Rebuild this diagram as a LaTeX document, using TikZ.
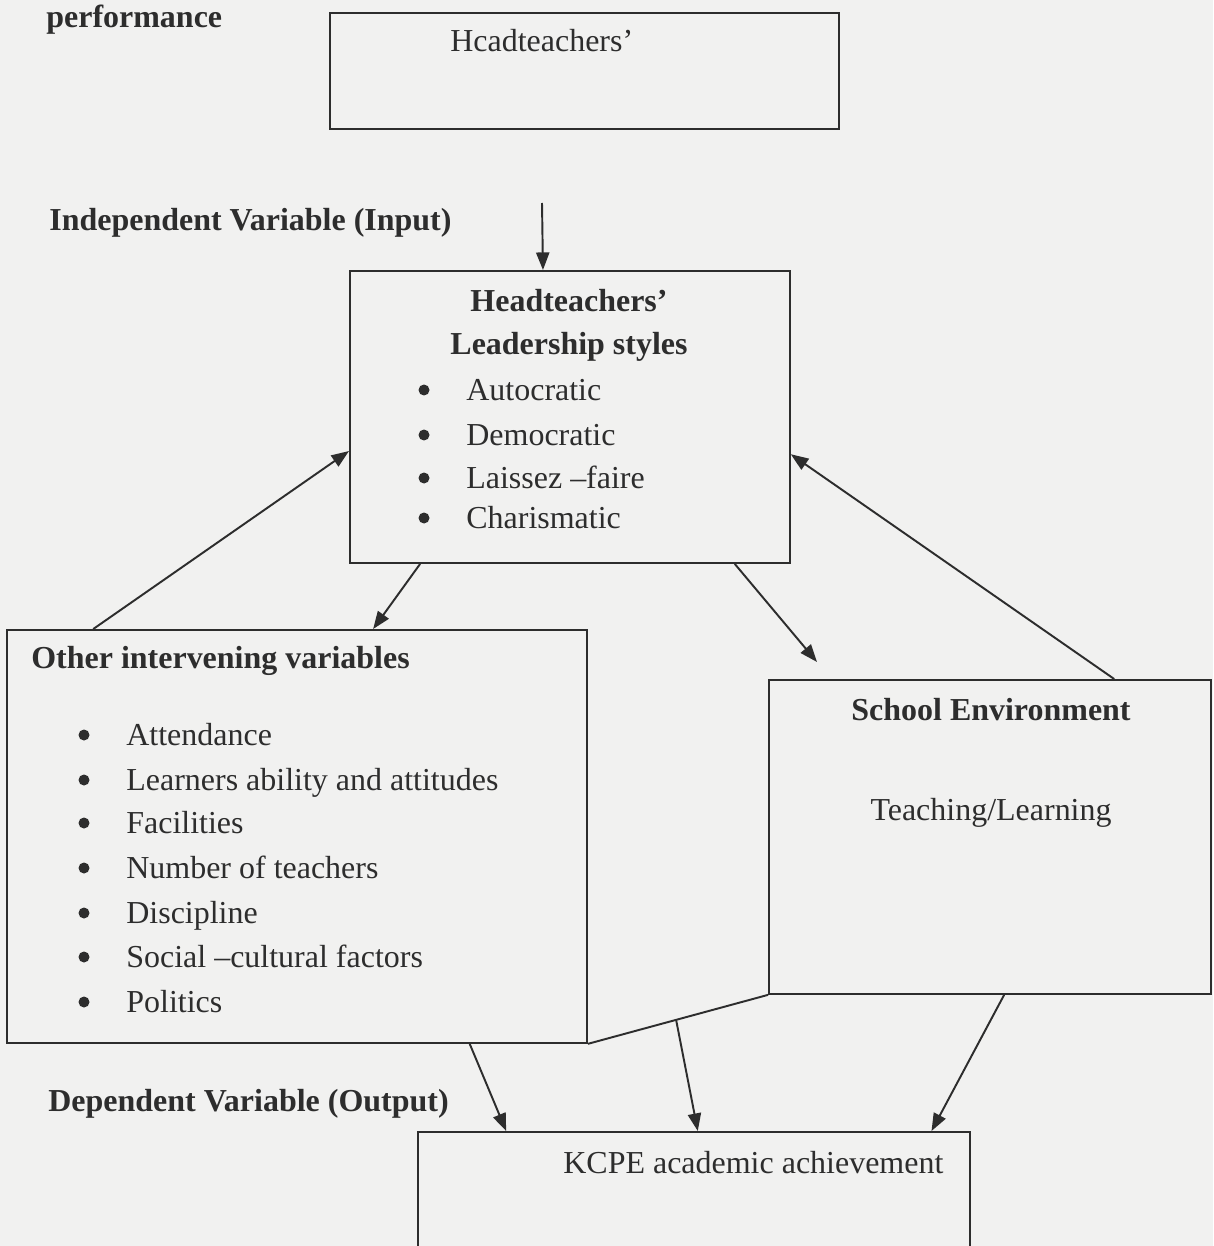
\documentclass[tikz,border=0pt]{standalone}
\usepackage{fontspec}
\setmainfont{Liberation Serif}
\usetikzlibrary{calc,arrows.meta}
\definecolor{paper}{RGB}{241,241,240}
\definecolor{ink}{RGB}{45,45,45}
\tikzset{
  box/.style={draw=ink, line width=1.1pt, anchor=north west, inner sep=0pt},
  txt/.style={text=ink, inner sep=0pt, anchor=base west, font=\fontsize{18.2}{22}\selectfont},
  head/.style={txt, font=\fontsize{18.2}{22}\selectfont\bfseries},
  dot/.style={circle, fill=ink, inner sep=0pt, minimum size=0.22cm},
  arr/.style={draw=ink, line width=1.1pt, -{Triangle[length=10pt,width=7.5pt]}}
}
\begin{document}
\begin{tikzpicture}[x=0.02cm, y=-0.02cm]
  \useasboundingbox (0,0) rectangle (1213,1246);
  \clip (0,0) rectangle (1213,1246);
  \fill[paper] (0,0) rectangle (1213,1246);

  % headings on the left
  \node[head] (perf) at (46,28) {performance};
  \node[head] (input) at (49,231) {Independent Variable (Input)};
  \node[head] (output) at (48,1111) {Dependent Variable (Output)};

  % boxes
  \node[box, minimum width=10.18cm, minimum height=2.32cm] (topbox) at (329,12) {};
  \node[box, minimum width=8.8cm, minimum height=5.84cm] (leadbox) at (349,270) {};
  \node[box, minimum width=11.6cm, minimum height=8.26cm] (otherbox) at (6,629) {};
  \node[box, minimum width=8.84cm, minimum height=6.28cm] (schoolbox) at (768,679) {};
  \node[box, minimum width=11.04cm, minimum height=2.9cm] (kcpebox) at (417,1131) {};

  \node[txt] (toptext) at (450,52) {Hcadteachers’};

  % leadership styles
  \node[head, anchor=base] (leadA) at (569,312) {Headteachers’};
  \node[head, anchor=base] (leadB) at (569,355) {Leadership styles};
  \node[dot] (d1) at (424,390) {};
  \node[txt] (autoc) at (466,400) {Autocratic};
  \node[dot] (d2) at (424,435) {};
  \node[txt] (democ) at (466,445) {Democratic};
  \node[dot] (d3) at (424,478) {};
  \node[txt] (laiss) at (466,488) {Laissez –faire};
  \node[dot] (d4) at (424,518) {};
  \node[txt] (chari) at (466,528) {Charismatic};

  % intervening variables
  \node[head] (otherhead) at (31,668) {Other intervening variables};
  \node[dot] (e1) at (84,735) {};
  \node[txt] (atten) at (126,745) {Attendance};
  \node[dot] (e2) at (84,780) {};
  \node[txt] (learn) at (126,790) {Learners ability and attitudes};
  \node[dot] (e3) at (84,823) {};
  \node[txt] (facil) at (126,833) {Facilities};
  \node[dot] (e4) at (84,868) {};
  \node[txt] (numb) at (126,878) {Number of teachers};
  \node[dot] (e5) at (84,913) {};
  \node[txt] (disc) at (126,923) {Discipline};
  \node[dot] (e6) at (84,957) {};
  \node[txt] (social) at (126,967) {Social –cultural factors};
  \node[dot] (e7) at (84,1002) {};
  \node[txt] (polit) at (126,1012) {Politics};

  % school environment
  \node[head, anchor=base] (schoolhead) at (991,720) {School Environment};
  \node[txt, anchor=base] (teach) at (991,820) {Teaching/Learning};

  \node[txt] (kcpe) at (563,1173) {KCPE academic achievement};

  % connectors
  \coordinate (intop) at (542,203);
  \coordinate (envtip) at (817,662);
  \draw[arr] (intop) -- ($(leadbox.north west)!0.439!(leadbox.north east)$);
  \draw[arr] ($(otherbox.north west)!0.15!(otherbox.north east)$) -- ($(leadbox.north west)!0.616!(leadbox.south west)$);
  \draw[arr] ($(leadbox.south west)!0.161!(leadbox.south east)$) -- ($(otherbox.north west)!0.631!(otherbox.north east)$);
  \draw[arr] ($(leadbox.south west)!0.873!(leadbox.south east)$) -- (envtip);
  \draw[arr] ($(schoolbox.north west)!0.78!(schoolbox.north east)$) -- ($(leadbox.north east)!0.627!(leadbox.south east)$);
  \draw[draw=ink, line width=1.1pt] (otherbox.south east) -- coordinate[pos=0.49] (link) (schoolbox.south west);
  \draw[arr] ($(otherbox.south west)!0.797!(otherbox.south east)$) -- ($(kcpebox.north west)!0.161!(kcpebox.north east)$);
  \draw[arr] (link) -- ($(kcpebox.north west)!0.507!(kcpebox.north east)$);
  \draw[arr] ($(schoolbox.south west)!0.532!(schoolbox.south east)$) -- ($(kcpebox.north west)!0.929!(kcpebox.north east)$);
\end{tikzpicture}
\end{document}
